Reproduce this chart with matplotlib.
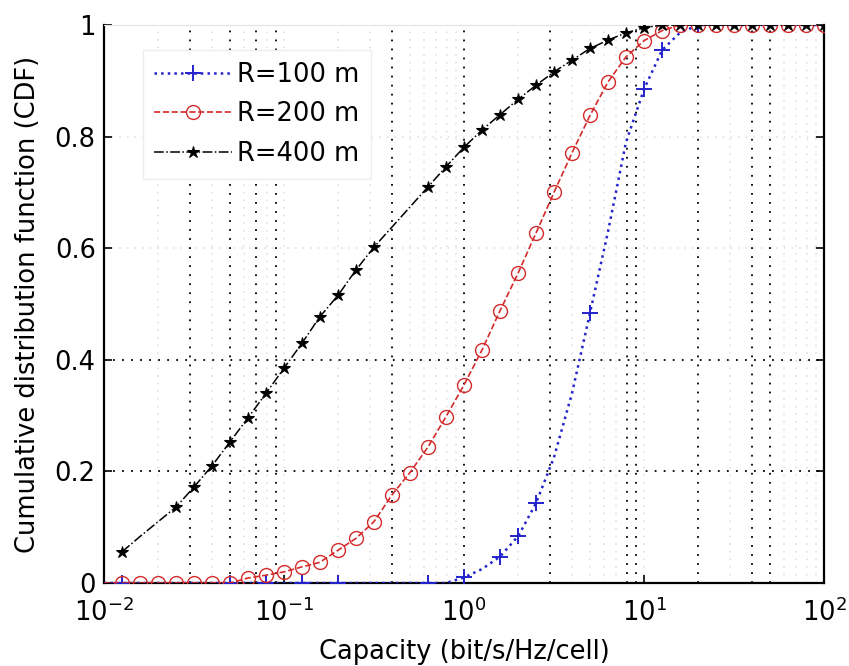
import matplotlib
matplotlib.use('Agg')
import matplotlib.pyplot as plt

#capacity grid (bit/s/Hz/cell)
capacity = [0.01, 0.0126, 0.0158, 0.02, 0.0251, 0.0316, 0.0398, 0.0501, 0.0631, 0.0794,
            0.1, 0.126, 0.158, 0.2, 0.251, 0.316, 0.398, 0.501, 0.631, 0.794,
            1.0, 1.26, 1.58, 2.0, 2.51, 3.16, 3.98, 5.01, 6.31, 7.94,
            10.0, 12.6, 15.8, 20.0, 25.1, 31.6, 39.8, 50.1, 63.1, 79.4, 100.0]

#cdf values for each cell radius
cdf_100 = [0, 0, 0, 0, 0, 0, 0, 0, 0, 0,
           0, 0, 0, 0, 0, 0, 0, 0, 0, 0,
           0.01, 0.025, 0.047, 0.084, 0.143, 0.225, 0.34, 0.484, 0.63, 0.79,
           0.885, 0.955, 0.986, 1, 1, 1, 1, 1, 1, 1, 1]
cdf_200 = [0, 0, 0, 0, 0, 0, 0, 0, 0.009, 0.014,
           0.02, 0.029, 0.037, 0.059, 0.08, 0.11, 0.158, 0.198, 0.244, 0.298,
           0.355, 0.418, 0.487, 0.556, 0.627, 0.70, 0.771, 0.838, 0.898, 0.943,
           0.972, 0.99, 1, 1, 1, 1, 1, 1, 1, 1, 1]
cdf_400 = [0.056, 0.083, 0.11, 0.136, 0.172, 0.21, 0.253, 0.296, 0.34,
           0.385, 0.43, 0.477, 0.516, 0.561, 0.602, 0.638, 0.674, 0.71, 0.746,
           0.781, 0.812, 0.839, 0.867, 0.892, 0.916, 0.937, 0.958, 0.973, 0.986,
           0.995, 1, 1, 1, 1, 1, 1, 1, 1, 1, 1]

labels = ['R=100 m', 'R=200 m', 'R=400 m']

#where the markers show up on each curve
marks_100 = [1, 7, 9, 11, 13, 18, 20, 22, 23, 24, 27, 30, 31, 33]
marks_200 = list(range(1, 41))
marks_400 = [i for i in range(0, 40) if i not in (1, 2, 15, 16)]

#dotted grid lines that survived in the picture
grid_x = [0.03, 0.05, 0.07, 0.09, 0.4, 1, 3, 8, 9, 20, 40, 50]
grid_x_faint = [0.02, 0.04, 0.06, 0.08, 0.1, 0.2, 0.3, 0.5, 0.6, 0.7, 0.8, 0.9,
                2, 4, 5, 6, 7, 10, 30, 60, 70, 80, 90]
grid_y = [0.2, 0.4]
grid_y_faint = [0.6, 0.8]

plt.rcParams['font.family'] = 'DejaVu Sans'
fs = 18.5

fig = plt.figure(figsize=(8.49, 6.66), dpi=100)
ax = fig.add_axes([0.1225, 0.1246, 0.8481, 0.8378])

dots = (0, (1, 4))
for gx in grid_x_faint:
    ax.axvline(gx, color='#dcdcdc', lw=1.1, ls=dots, zorder=0)
for gy in grid_y_faint:
    ax.axhline(gy, color='#dcdcdc', lw=1.1, ls=dots, zorder=0)
for gx in grid_x:
    ax.axvline(gx, color='black', lw=1.3, ls=dots, zorder=1)
for gy in grid_y:
    ax.axhline(gy, color='black', lw=1.3, ls=dots, zorder=1)

#the three curves
ax.plot(capacity, cdf_100, color='#2323cc', ls=':', lw=1.8, marker='+', ms=12,
        mew=1.4, markevery=marks_100, label=labels[0], zorder=3)
ax.plot(capacity, cdf_200, color='#d42a2a', ls='--', lw=1.2, marker='o', ms=10,
        mew=1.0, mfc='none', markevery=marks_200, label=labels[1], zorder=3)
ax.plot(capacity[1:], cdf_400, color='black', ls='-.', lw=1.1, marker='*', ms=9,
        mew=0.8, markevery=marks_400, label=labels[2], zorder=4)

ax.set_xscale('log')
ax.set_xlim(0.01, 100)
ax.set_ylim(0, 1)
ax.set_xticks([0.01, 0.1, 1, 10, 100])
ax.set_xticklabels([r'$10^{-2}$', r'$10^{-1}$', r'$10^{0}$', r'$10^{1}$', r'$10^{2}$'])
ax.minorticks_off()
ax.set_yticks([0, 0.2, 0.4, 0.6, 0.8, 1])
ax.set_yticklabels(['0', '0.2', '0.4', '0.6', '0.8', '1'])
ax.tick_params(direction='in', length=6, width=1.2, labelsize=fs,
               top=False, right=True)
ax.tick_params(axis='x', pad=11)
ax.tick_params(axis='y', pad=6)

for side in ['left', 'bottom', 'right']:
    ax.spines[side].set_linewidth(1.6)
ax.spines['top'].set_color('#e2e2e2')

ax.set_xlabel('Capacity (bit/s/Hz/cell)', fontsize=fs, labelpad=9)
ax.set_ylabel('Cumulative distribution function (CDF)', fontsize=fs, labelpad=10)

leg = ax.legend(loc='upper left', bbox_to_anchor=(0.054, 0.955), borderaxespad=0,
                fontsize=fs, handlelength=3.0, handletextpad=0.2, labelspacing=0.53,
                borderpad=0.45, fancybox=False, framealpha=1, edgecolor='#eeeeee')
leg.set_zorder(5)

fig.savefig('out.png', dpi=100)
